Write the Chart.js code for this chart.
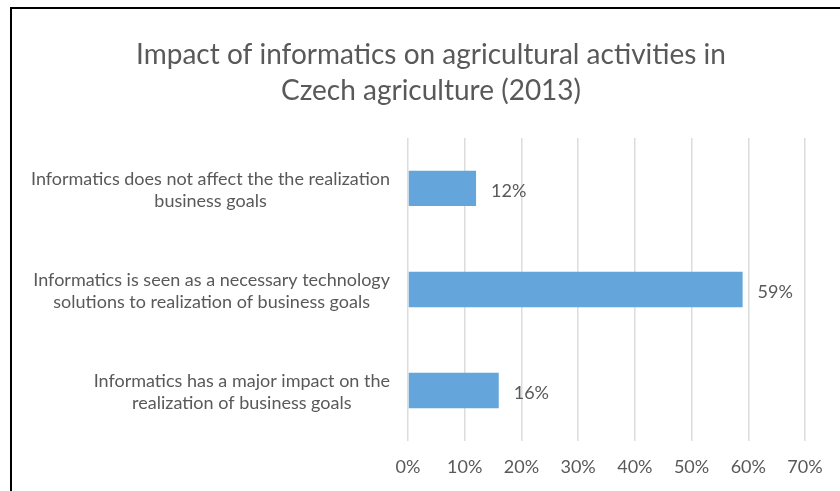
<!DOCTYPE html>
<html>
<head>
<meta charset="utf-8">
<script src="https://cdn.jsdelivr.net/npm/chart.js@4.4.1/dist/chart.umd.min.js"></script>
<style>
  html, body { margin: 0; padding: 0; background: #fff; overflow: hidden; }
  body { width: 840px; height: 491px; position: relative; }
  #frame {
    position: absolute; left: 10px; top: 7px; width: 900px; height: 600px;
    border-top: 2px solid #000; border-left: 2px solid #000;
  }
  #impactChart { position: absolute; left: 0; top: 0; }
</style>
</head>
<body>
<div id="frame"></div>
<canvas id="impactChart" width="862" height="491"></canvas>
<script>
// data
const categories = [
  ['Informatics does not affect the the realization', 'business goals'],
  ['Informatics is seen as a necessary technology', 'solutions to realization of business goals'],
  ['Informatics has a major impact on the', 'realization of business goals']
];
const shares = [12, 59, 16]; // percent
const axisMax = 70;
const axisStep = 10;

const textGrey = '#595959';
const fontFamily = 'Lato, "Open Sans", sans-serif';

// category labels: lines centred on each other, block right-aligned at the axis
const categoryLabels = {
  id: 'categoryLabels',
  afterDraw(chart) {
    const ctx = chart.ctx;
    const yScale = chart.scales.y;
    const rightEdge = chart.chartArea.left - 18;
    const lineH = 22;
    ctx.save();
    ctx.font = '18px ' + fontFamily;
    ctx.fillStyle = textGrey;
    ctx.textAlign = 'center';
    ctx.textBaseline = 'middle';
    categories.forEach((lines, i) => {
      const y = yScale.getPixelForValue(i) + 2;
      const maxW = Math.max(...lines.map(l => ctx.measureText(l).width));
      const cx = rightEdge - maxW / 2;
      const top = y - (lines.length - 1) * lineH / 2;
      lines.forEach((l, j) => ctx.fillText(l, cx, top + j * lineH));
    });
    ctx.restore();
  }
};

// value labels to the right of each bar
const valueLabels = {
  id: 'valueLabels',
  afterDatasetsDraw(chart) {
    const ctx = chart.ctx;
    const meta = chart.getDatasetMeta(0);
    ctx.save();
    ctx.font = '18px ' + fontFamily;
    ctx.fillStyle = textGrey;
    ctx.textAlign = 'left';
    ctx.textBaseline = 'middle';
    meta.data.forEach((bar, i) => {
      ctx.fillText(shares[i] + '%', bar.x + 15, bar.y + 3);
    });
    ctx.restore();
  }
};

new Chart(document.getElementById('impactChart'), {
  type: 'bar',
  data: {
    labels: categories.map(c => c.join(' ')),
    datasets: [{
      data: shares,
      backgroundColor: '#64A6DC',
      borderWidth: 0,
      categoryPercentage: 1,
      barPercentage: 0.35
    }]
  },
  options: {
    indexAxis: 'y',
    responsive: false,
    animation: false,
    devicePixelRatio: 1,
    layout: { padding: { left: 57, right: 57, top: 0, bottom: 0 } },
    plugins: {
      legend: { display: false },
      tooltip: { enabled: false },
      title: {
        display: true,
        text: ['Impact of informatics on agricultural activities in', 'Czech agriculture (2013)'],
        color: textGrey,
        font: { family: fontFamily, size: 28, weight: 'normal', lineHeight: 1.32 },
        padding: { top: 36, bottom: 28 }
      }
    },
    scales: {
      x: {
        min: 0,
        max: axisMax,
        ticks: {
          stepSize: axisStep,
          color: textGrey,
          padding: 15,
          font: { family: fontFamily, size: 18 },
          callback: v => v + '%'
        },
        grid: { color: '#DCDCDC', lineWidth: 1.5, drawTicks: false },
        border: { display: false },
        afterFit(scale) { scale.height = 50; }
      },
      y: {
        ticks: { display: false },
        grid: { display: false },
        border: { display: false },
        afterFit(scale) { scale.width = 351; }
      }
    }
  },
  plugins: [categoryLabels, valueLabels]
});
</script>
</body>
</html>
